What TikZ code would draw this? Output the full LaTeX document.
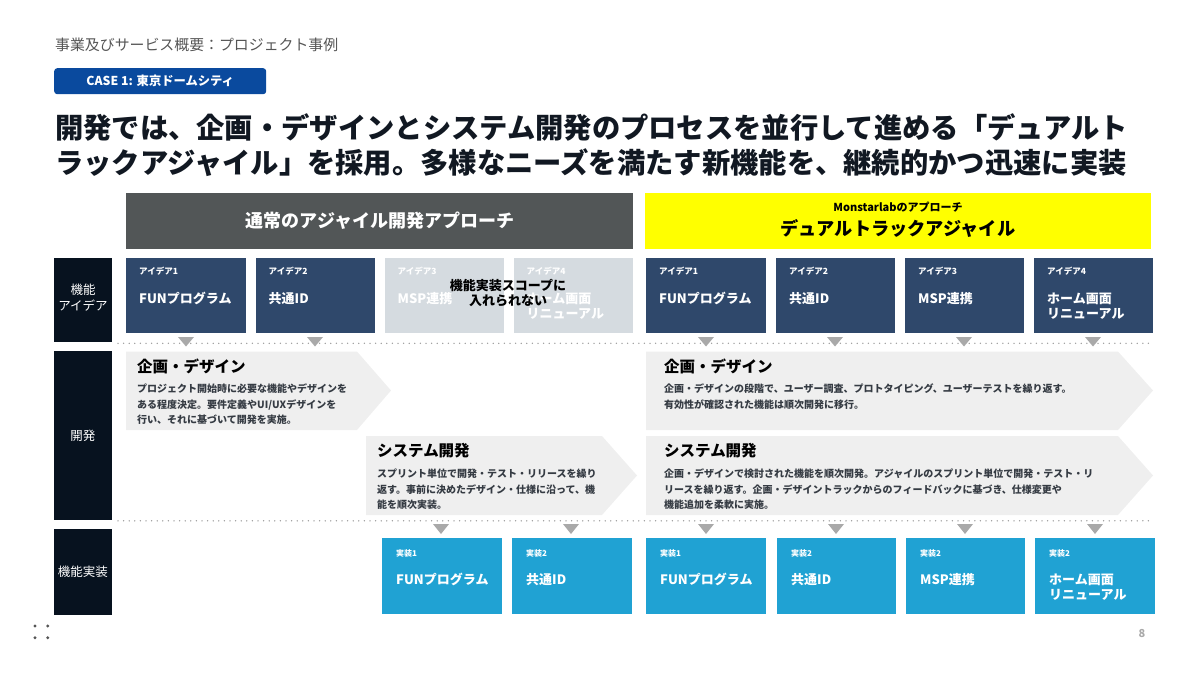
\documentclass[tikz,border=0pt]{standalone}
\usepackage{fontspec}
\setmainfont{Noto Sans CJK JP}
\definecolor{labnavy}{HTML}{07121F}
\definecolor{ideanavy}{HTML}{2F486B}
\definecolor{fadebox}{HTML}{D5DBE0}
\definecolor{implblue}{HTML}{20A2D3}
\definecolor{bannergray}{HTML}{525657}
\definecolor{bannerylw}{HTML}{FFFF00}
\definecolor{arrowgray}{HTML}{EFEFEF}
\definecolor{trigray}{HTML}{A9A9A9}
\definecolor{dotgray}{HTML}{9A9A9A}
\definecolor{casblue}{HTML}{0A4A9E}
\definecolor{headgray}{HTML}{555555}
\definecolor{titleblack}{HTML}{111822}
\begin{document}
\begin{tikzpicture}[x=1pt,y=-1pt,
  rowlabel/.style={fill=labnavy, anchor=north west, inner sep=0, outer sep=0, minimum width=57.5pt},
  rowtext/.style={text=white, align=center, inner sep=0, font=\fontsize{12.5}{16}\selectfont},
  ideabox/.style={fill=ideanavy, anchor=north west, inner sep=0, outer sep=0, minimum width=119.5pt, minimum height=75pt},
  fadedbox/.style={ideabox, fill=fadebox},
  implbox/.style={fill=implblue, anchor=north west, inner sep=0, outer sep=0, minimum width=119.5pt, minimum height=76pt},
  smalltag/.style={anchor=west, inner sep=0, text=white, font=\fontsize{8.5}{10}\selectfont\bfseries},
  impltag/.style={anchor=west, inner sep=0, text=white, font=\fontsize{8}{10}\selectfont\bfseries},
  boxmain/.style={anchor=west, inner sep=0, text=white, align=left, font=\fontsize{13}{15.5}\selectfont\bfseries},
  devtitle/.style={anchor=west, inner sep=0, text=black, font=\fontsize{15.5}{18}\selectfont\bfseries},
  devbody/.style={anchor=north west, inner sep=0, text=titleblack!85, align=left, font=\fontsize{10}{15.3}\selectfont\bfseries},
  tri/.style={fill=trigray},
  dotline/.style={draw=dotgray, line width=1.5pt, line cap=round, dash pattern=on 0pt off 5.6pt}
]
\useasboundingbox (0,0) rectangle (1200,675);

% header
\node[anchor=west, inner sep=0, text=headgray, font=\fontsize{14.9}{17}\selectfont] (hdr) at (55,45) {事業及びサービス概要：プロジェクト事例};
\node[fill=casblue, rounded corners=3pt, anchor=north west, minimum width=212pt, minimum height=26pt, inner sep=0] (case) at (54,68) {};
\node[text=white, inner sep=0, font=\fontsize{12.3}{14}\selectfont\bfseries] (casetxt) at (case.center) {CASE 1: 東京ドームシティ};

% title
\node[anchor=west, inner sep=0, text=titleblack, font=\fontsize{28.3}{34}\selectfont\bfseries] (t1) at (55,127) {開発では、企画・デザインとシステム開発のプロセスを並行して進める「デュアルト};
\node[anchor=west, inner sep=0, text=titleblack, font=\fontsize{28.3}{34}\selectfont\bfseries] (t2) at (55,163) {ラックアジャイル」を採用。多様なニーズを満たす新機能を、継続的かつ迅速に実装};

% banners
\node[fill=bannergray, anchor=north west, minimum width=507pt, minimum height=55.5pt, inner sep=0] (bl) at (126,193) {};
\node[text=white, inner sep=0, font=\fontsize{18}{20}\selectfont\bfseries] (bltxt) at (380,221) {通常のアジャイル開発アプローチ};
\node[fill=bannerylw, anchor=north west, minimum width=506pt, minimum height=55.5pt, inner sep=0] (br) at (645,193) {};
\node[text=black, inner sep=0, font=\fontsize{11}{13}\selectfont\bfseries] (brtxt1) at (898,207) {Monstarlabのアプローチ};
\node[text=black, inner sep=0, font=\fontsize{18.2}{20}\selectfont\bfseries] (brtxt2) at (898,229) {デュアルトラックアジャイル};

% row labels
\node[rowlabel, minimum height=84pt] (r1) at (54,258) {};
\node[rowtext] (r1t) at (83,298) {機能\\アイデア};
\node[rowlabel, minimum height=169pt] (r2) at (54,351) {};
\node[rowtext] (r2t) at (r2.center) {開発};
\node[rowlabel, minimum height=85.5pt] (r3) at (54,529) {};
\node[rowtext] (r3t) at (r3.center) {機能実装};

% idea boxes left
\node[ideabox] (il1) at (126,257.5) {};
\node[ideabox] (il2) at (255.5,257.5) {};
\node[fadedbox] (il3) at (384.5,257.5) {};
\node[fadedbox] (il4) at (513.5,257.5) {};
\node[smalltag] at (139,271.5) {アイデア1};
\node[boxmain] at (139,298.5) {FUNプログラム};
\node[smalltag] at (268.5,271.5) {アイデア2};
\node[boxmain] at (268.5,298.5) {共通ID};
\node[smalltag] at (397.5,271.5) {アイデア3};
\node[boxmain] at (397.5,298.5) {MSP連携};
\node[smalltag] at (526.5,271.5) {アイデア4};
\node[boxmain] at (526.5,306) {ホーム画面\\リニューアル};
\node[inner sep=0, align=center, text=black, font=\fontsize{13}{15.5}\selectfont\bfseries] (noscope) at (508,293) {機能実装スコープに\\入れられない};

% idea boxes right
\node[ideabox] (ir1) at (646,257.5) {};
\node[ideabox] (ir2) at (775.5,257.5) {};
\node[ideabox] (ir3) at (904.5,257.5) {};
\node[ideabox] (ir4) at (1033.5,257.5) {};
\node[smalltag] at (659,271.5) {アイデア1};
\node[boxmain] at (659,298.5) {FUNプログラム};
\node[smalltag] at (789,271.5) {アイデア2};
\node[boxmain] at (789,298.5) {共通ID};
\node[smalltag] at (918,271.5) {アイデア3};
\node[boxmain] at (918,298.5) {MSP連携};
\node[smalltag] at (1047,271.5) {アイデア4};
\node[boxmain] at (1047,306) {ホーム画面\\リニューアル};

% dotted separators
\coordinate (d1a) at (118,343.3);
\coordinate (d1b) at (1153,343.3);
\coordinate (d2a) at (118,520.8);
\coordinate (d2b) at (1153,520.8);
\draw[dotline] (d1a) -- (d1b);
\draw[dotline] (d2a) -- (d2b);

% dev arrows
\fill[arrowgray] (126,351.5) -- (357,351.5) -- (391,390.5) -- (357,430) -- (126,430) -- cycle;
\fill[arrowgray] (366,436) -- (602,436) -- (637,475.5) -- (602,515) -- (366,515) -- cycle;
\fill[arrowgray] (646,351.5) -- (1118,351.5) -- (1153,390.5) -- (1118,430) -- (646,430) -- cycle;
\fill[arrowgray] (646,436) -- (1118,436) -- (1153,475.5) -- (1118,515) -- (646,515) -- cycle;

\node[devtitle] (dl1) at (137,366) {企画・デザイン};
\node[devbody] at (137,384) {プロジェクト開始時に必要な機能やデザインを\\ある程度決定。要件定義やUI/UXデザインを\\行い、それに基づいて開発を実施。};
\node[devtitle] (dl2) at (377,451) {システム開発};
\node[devbody] at (377,469) {スプリント単位で開発・テスト・リリースを繰り\\返す。事前に決めたデザイン・仕様に沿って、機\\能を順次実装。};
\node[devtitle] (dr1) at (664,366) {企画・デザイン};
\node[devbody] at (664,384) {企画・デザインの段階で、ユーザー調査、プロトタイピング、ユーザーテストを繰り返す。\\有効性が確認された機能は順次開発に移行。};
\node[devtitle] (dr2) at (664,451) {システム開発};
\node[devbody] at (664,469) {企画・デザインで検討された機能を順次開発。アジャイルのスプリント単位で開発・テスト・リ\\リースを繰り返す。企画・デザイントラックからのフィードバックに基づき、仕様変更や\\機能追加を柔軟に実施。};

% triangles
\foreach \cx in {186,315,706,835,964,1093}{
  \fill[tri] (\cx-8,337) -- (\cx+8,337) -- (\cx,346.5) -- cycle;
}
\foreach \cx in {441,571,706,836,965,1095}{
  \fill[tri] (\cx-8,524) -- (\cx+8,524) -- (\cx,534) -- cycle;
}

% implementation boxes
\node[implbox] (m1) at (382,538.3) {};
\node[implbox] (m2) at (512,538.3) {};
\node[implbox] (m3) at (646,538.3) {};
\node[implbox] (m4) at (776.5,538.3) {};
\node[implbox] (m5) at (905.5,538.3) {};
\node[implbox] (m6) at (1035,538.3) {};
\node[impltag] at (396,553.3) {実装1};
\node[boxmain] at (396,579.5) {FUNプログラム};
\node[impltag] at (526,553.3) {実装2};
\node[boxmain] at (526,579.5) {共通ID};
\node[impltag] at (660,553.3) {実装1};
\node[boxmain] at (660,579.5) {FUNプログラム};
\node[impltag] at (791,553.3) {実装2};
\node[boxmain] at (791,579.5) {共通ID};
\node[impltag] at (920,553.3) {実装2};
\node[boxmain] at (920,579.5) {MSP連携};
\node[impltag] at (1049,553.3) {実装2};
\node[boxmain] at (1049,587) {ホーム画面\\リニューアル};

% footer
\node[inner sep=0, text=trigray, font=\fontsize{11}{13}\selectfont\bfseries] (pg) at (1142,633) {8};
\foreach \dx/\dy in {35/626,47.7/626,35/637.7,47.7/637.7}{
  \fill[headgray] (\dx,\dy) circle (1.6pt);
}
\end{tikzpicture}
\end{document}
